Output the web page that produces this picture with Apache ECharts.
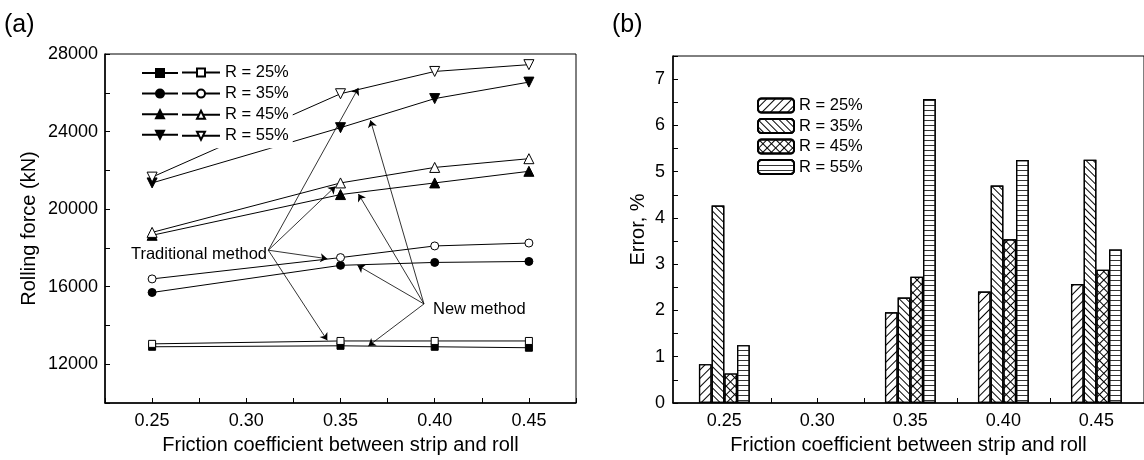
<!DOCTYPE html>
<html>
<head>
<meta charset="utf-8">
<script src="https://cdn.jsdelivr.net/npm/echarts@6/dist/echarts.min.js"></script>
<style>
  html, body { margin: 0; padding: 0; background: #fff; }
  #chart { width: 1144px; height: 460px; }
</style>
</head>
<body>
<div id="chart"></div>
<script>
// friction coefficients shared by both panels
const friction = [0.25, 0.35, 0.40, 0.45];
const ratioNames = ['R = 25%', 'R = 35%', 'R = 45%', 'R = 55%'];

// (a) rolling force, kN
const newR25 = [12900, 12950, 12900, 12850];
const newR35 = [15700, 17100, 17250, 17300];
const newR45 = [18650, 20750, 21350, 21950];
const newR55 = [21350, 24200, 25700, 26550];
const tradR25 = [13050, 13200, 13200, 13200];
const tradR35 = [16400, 17500, 18100, 18250];
const tradR45 = [18800, 21350, 22150, 22600];
const tradR55 = [21650, 25950, 27100, 27450];

// (b) error, %
const errR25 = [0.84, 1.96, 2.41, 2.57];
const errR35 = [4.27, 2.28, 4.70, 5.26];
const errR45 = [0.64, 2.73, 3.54, 2.88];
const errR55 = [1.25, 6.57, 5.25, 3.32];

// annotation arrows in (a), data coordinates
const tradArrowFrom = [0.3117, 17880];
const tradArrowTo = [[0.3595, 26250], [0.3473, 21170], [0.3430, 17440], [0.3430, 13230]];
const newArrowFrom = [0.3943, 15110];
const newArrowTo = [[0.3659, 24580], [0.3595, 20780], [0.3590, 17100], [0.3648, 12940]];

const FONT = "'Liberation Sans', Arial, sans-serif";
const downTri = 'path://M0,0 L10,0 L5,9 Z';
const symbols = ['rect', 'circle', 'triangle', downTri];
const symbolSizes = [7, 8, 10, 10];

const toPairs = ys => ys.map((y, i) => [friction[i], y]);

const newSets = [newR25, newR35, newR45, newR55];
const tradSets = [tradR25, tradR35, tradR45, tradR55];
const errSets = [errR25, errR35, errR45, errR55];

const arrowLines = []
  .concat(tradArrowTo.map(p => [{ coord: tradArrowFrom }, { coord: p }]))
  .concat(newArrowTo.map(p => [{ coord: newArrowFrom }, { coord: p }]));

let lineSeries = [];
ratioNames.forEach((name, i) => {
  lineSeries.push({
    name: name + ' (new)',
    type: 'line',
    xAxisIndex: 0,
    yAxisIndex: 0,
    data: toPairs(newSets[i]),
    symbol: symbols[i],
    symbolSize: symbolSizes[i],
    showAllSymbol: true,
    lineStyle: { color: '#000', width: 1 },
    itemStyle: { color: '#000', borderColor: '#000', borderWidth: 1 },
    emphasis: { disabled: true }
  });
  lineSeries.push({
    name: name + ' (traditional)',
    type: 'line',
    xAxisIndex: 0,
    yAxisIndex: 0,
    data: toPairs(tradSets[i]),
    symbol: symbols[i],
    symbolSize: symbolSizes[i],
    showAllSymbol: true,
    lineStyle: { color: '#000', width: 1 },
    itemStyle: { color: '#fff', borderColor: '#000', borderWidth: 1 },
    emphasis: { disabled: true }
  });
});
lineSeries[0].markLine = {
  silent: true,
  symbol: ['none', 'arrow'],
  symbolSize: 7,
  lineStyle: { color: '#000', width: 0.8, type: 'solid' },
  label: { show: false },
  emphasis: { disabled: true },
  data: arrowLines
};

// hatch patterns for the bars
const decals = [
  { symbol: 'rect', symbolSize: 1, color: '#000', dashArrayX: [1, 0], dashArrayY: [1, 5], rotation: -Math.PI / 4 },
  { symbol: 'rect', symbolSize: 1, color: '#000', dashArrayX: [1, 0], dashArrayY: [1, 3.5], rotation: Math.PI / 4 },
  { symbol: 'rect', symbolSize: 1, color: '#000', dashArrayX: [[1, 5], [6, 0]], dashArrayY: [5, 0, 1, 0], rotation: Math.PI / 4 },
  { symbol: 'rect', symbolSize: 1, color: '#333', dashArrayX: [1, 0], dashArrayY: [1, 4], rotation: 0 }
];

const barSeries = ratioNames.map((name, i) => ({
  name: name,
  type: 'bar',
  xAxisIndex: 1,
  yAxisIndex: 1,
  data: toPairs(errSets[i]),
  barWidth: 12.7,
  barGap: '0%',
  itemStyle: { color: '#fff', borderColor: '#000', borderWidth: 1.2, decal: decals[i] },
  emphasis: { disabled: true }
}));

const axisText = { color: '#000', fontSize: 18, fontFamily: FONT };
const nameText = { color: '#000', fontSize: 20, fontFamily: FONT };
const axisLine = { show: true, lineStyle: { color: '#000', width: 1.5 } };
const axisTick = { show: true, inside: true, length: 5, lineStyle: { color: '#000', width: 1 } };

const chart = echarts.init(document.getElementById('chart'), null, { renderer: 'canvas' });
chart.setOption({
  animation: false,
  backgroundColor: '#fff',
  grid: [
    { left: 105, top: 54, right: 568, bottom: 54, show: true, borderColor: '#000', borderWidth: 1 },
    { left: 673, top: 56, right: -3, bottom: 53, show: true, borderColor: '#000', borderWidth: 1 }
  ],
  xAxis: [
    {
      type: 'value', gridIndex: 0, min: 0.225, max: 0.475, interval: 0.025,
      axisLine, axisTick, splitLine: { show: false },
      axisLabel: Object.assign({ margin: 9, formatter: v => (Math.round(v * 1000) % 50 === 0 ? v.toFixed(2) : '') }, axisText),
      name: 'Friction coefficient between strip and roll', nameLocation: 'middle', nameGap: 32, nameTextStyle: nameText
    },
    {
      type: 'value', gridIndex: 1, min: 0.2224, max: 0.4756,
      axisLine, splitLine: { show: false },
      axisTick: Object.assign({ customValues: [0.25, 0.275, 0.30, 0.325, 0.35, 0.375, 0.40, 0.425, 0.45] }, axisTick),
      axisLabel: Object.assign({ margin: 9, customValues: [0.25, 0.30, 0.35, 0.40, 0.45], formatter: v => v.toFixed(2) }, axisText),
      name: 'Friction coefficient between strip and roll', nameLocation: 'middle', nameGap: 32, nameTextStyle: nameText
    }
  ],
  yAxis: [
    {
      type: 'value', gridIndex: 0, min: 10000, max: 28000, interval: 2000,
      axisLine, axisTick, splitLine: { show: false },
      axisLabel: Object.assign({ margin: 7, formatter: v => (v % 4000 === 0 ? String(v) : '') }, axisText),
      name: 'Rolling force (kN)', nameLocation: 'middle', nameGap: 66, nameTextStyle: nameText
    },
    {
      type: 'value', gridIndex: 1, min: 0, max: 7.5, interval: 0.5,
      axisLine, axisTick, splitLine: { show: false },
      axisLabel: Object.assign({ margin: 8, formatter: v => (Number.isInteger(v) ? String(v) : '') }, axisText),
      name: 'Error, %', nameLocation: 'middle', nameGap: 25, nameTextStyle: nameText
    }
  ],
  legend: [
    {
      data: ratioNames.map(n => n + ' (new)'),
      left: 138, top: 64, orient: 'vertical', selectedMode: false,
      itemWidth: 36, itemHeight: 10, itemGap: 10.6,
      padding: [4, 2, 4, 3], backgroundColor: '#fff',
      formatter: () => '',
      textStyle: { fontSize: 1, lineHeight: 10 }
    },
    {
      data: ratioNames.map(n => n + ' (traditional)'),
      left: 179, top: 60, orient: 'vertical', selectedMode: false,
      itemWidth: 38, itemHeight: 10, itemGap: 4.1,
      padding: [4, 4, 4, 2], backgroundColor: '#fff',
      formatter: n => n.split(' (')[0],
      textStyle: { color: '#000', fontSize: 16.5, fontFamily: FONT }
    },
    {
      data: ratioNames,
      left: 757, top: 97, orient: 'vertical', selectedMode: false,
      itemWidth: 36, itemHeight: 14, itemGap: 3.5, padding: 0,
      textStyle: { color: '#000', fontSize: 16.5, fontFamily: FONT }
    }
  ],
  graphic: [
    { type: 'text', left: 4, top: 13, style: { text: '(a)', font: '25px ' + FONT, fill: '#000' } },
    { type: 'text', left: 612, top: 13, style: { text: '(b)', font: '25px ' + FONT, fill: '#000' } },
    { type: 'text', x: 267, y: 254, style: { text: 'Traditional method', font: '16.5px ' + FONT, fill: '#000', textAlign: 'right', textVerticalAlign: 'middle', align: 'right', verticalAlign: 'middle' } },
    { type: 'text', x: 433, y: 309, style: { text: 'New method', font: '16.5px ' + FONT, fill: '#000', textAlign: 'left', textVerticalAlign: 'middle', align: 'left', verticalAlign: 'middle' } }
  ],
  series: lineSeries.concat(barSeries)
});
</script>
</body>
</html>
